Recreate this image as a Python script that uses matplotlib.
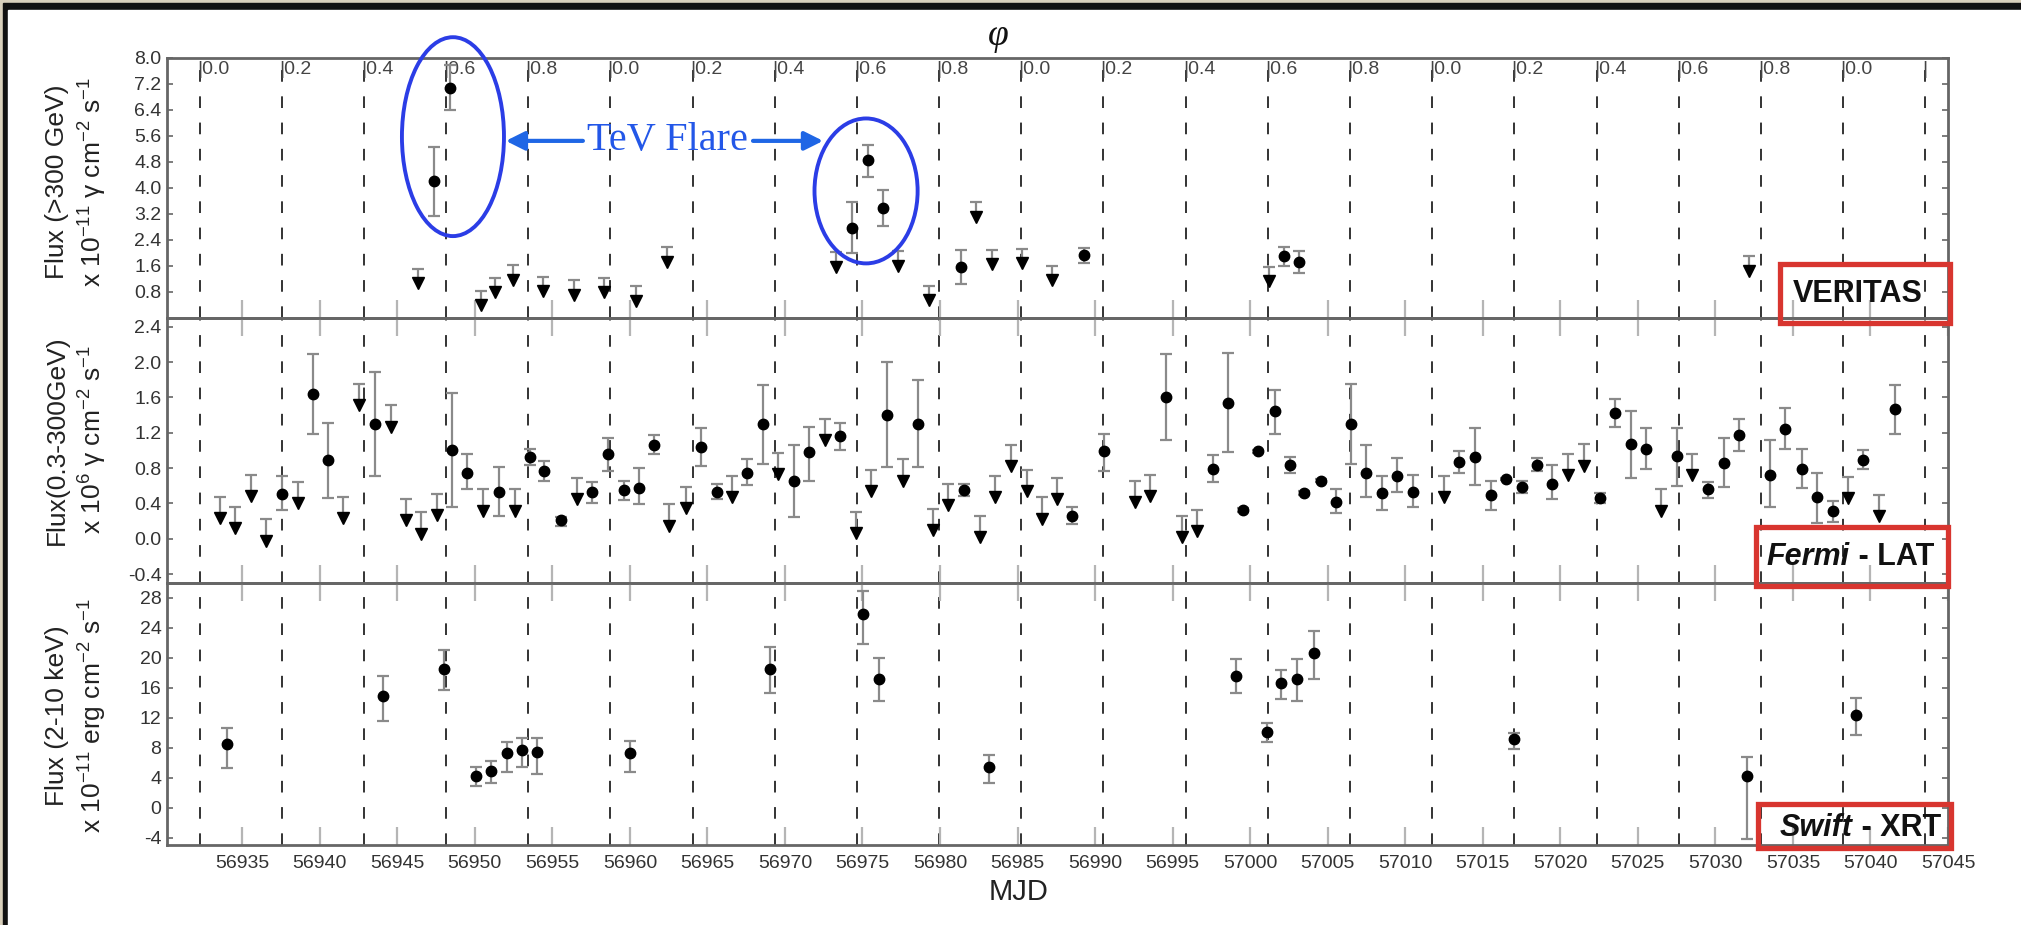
import numpy as np
import matplotlib
matplotlib.use('Agg')
import matplotlib.pyplot as plt
from matplotlib.patches import Ellipse, Rectangle

# ---- data (MJD, flux, error-bar ends) ----
# VERITAS >300 GeV, x 1e-11 ph cm^-2 s^-1
ver_mjd = [56947.36, 56948.37, 56974.31, 56975.35, 56976.30, 56981.34, 56989.27, 57002.15, 57003.18]
ver_flux = [4.22, 7.08, 2.76, 4.85, 3.38, 1.58, 1.93, 1.90, 1.71]
ver_lo = [3.15, 6.40, 2.01, 4.35, 2.82, 1.05, 1.68, 1.60, 1.37]
ver_hi = [5.26, 7.79, 3.56, 5.31, 3.93, 2.08, 2.16, 2.18, 2.06]
ver_ul_mjd = [56946.35, 56950.39, 56951.28, 56952.43, 56954.37, 56956.38, 56958.31, 56960.42, 56962.40,
              56973.27, 56977.28, 56979.32, 56982.35, 56983.36, 56985.29, 56987.25, 57001.20, 57032.14]
ver_ul = [1.52, 0.84, 1.24, 1.63, 1.27, 1.17, 1.24, 0.97, 2.17,
          2.03, 2.06, 1.00, 3.56, 2.10, 2.13, 1.61, 1.58, 1.90]

# Fermi-LAT 0.3-300 GeV
lat_mjd = [56937.56, 56939.58, 56940.53, 56943.56, 56948.54, 56949.52, 56951.57, 56953.56, 56954.48,
           56955.55, 56957.56, 56958.57, 56959.61, 56960.56, 56961.57, 56964.60, 56965.60, 56967.54,
           56968.57, 56970.56, 56971.54, 56973.56, 56976.58, 56978.60, 56981.54, 56988.52, 56990.56,
           56994.57, 56997.59, 56998.60, 56999.55, 57000.50, 57001.57, 57002.55, 57003.50, 57004.55,
           57005.55, 57006.50, 57007.47, 57008.48, 57009.49, 57010.51, 57013.48, 57014.49, 57015.54,
           57016.52, 57017.53, 57018.51, 57019.49, 57022.53, 57023.54, 57024.55, 57025.51, 57027.53,
           57029.52, 57030.57, 57031.55, 57033.54, 57034.52, 57035.57, 57036.58, 57037.59, 57039.52,
           57041.55]
lat_flux = [0.506, 1.634, 0.89, 1.30, 1.00, 0.75, 0.53, 0.93, 0.766,
            0.21, 0.53, 0.966, 0.55, 0.57, 1.06, 1.04, 0.53, 0.75,
            1.30, 0.653, 0.985, 1.16, 1.40, 1.30, 0.55, 0.257, 0.99,
            1.60, 0.79, 1.54, 0.325, 0.99, 1.445, 0.834, 0.52, 0.66,
            0.42, 1.30, 0.75, 0.52, 0.713, 0.53, 0.87, 0.93, 0.494,
            0.675, 0.59, 0.84, 0.626, 0.457, 1.42, 1.07, 1.02, 0.94,
            0.56, 0.86, 1.17, 0.728, 1.24, 0.79, 0.468, 0.313, 0.898,
            1.468]
lat_lo = [0.325, 1.19, 0.457, 0.71, 0.36, 0.56, 0.26, 0.834, 0.657,
          0.14, 0.41, 0.77, 0.445, 0.39, 0.96, 0.83, 0.45, 0.615,
          0.845, 0.25, 0.657, 1.01, 0.815, 0.815, 0.49, 0.166, 0.77,
          1.117, 0.64, 0.985, 0.30, 0.97, 1.19, 0.75, 0.50, 0.64,
          0.287, 0.845, 0.475, 0.325, 0.53, 0.355, 0.75, 0.615, 0.325,
          0.665, 0.52, 0.766, 0.45, 0.41, 1.27, 0.69, 0.796, 0.596,
          0.464, 0.59, 0.99, 0.355, 1.02, 0.57, 0.174, 0.19, 0.785,
          1.19]
lat_hi = [0.713, 2.09, 1.31, 1.89, 1.65, 0.966, 0.815, 1.015, 0.88,
          0.25, 0.64, 1.14, 0.66, 0.80, 1.17, 1.25, 0.62, 0.90,
          1.74, 1.06, 1.27, 1.31, 2.00, 1.80, 0.62, 0.355, 1.185,
          2.09, 0.947, 2.10, 0.35, 1.01, 1.69, 0.93, 0.54, 0.68,
          0.56, 1.75, 1.06, 0.713, 0.91, 0.728, 0.99, 1.25, 0.657,
          0.685, 0.66, 0.917, 0.834, 0.52, 1.58, 1.45, 1.25, 1.25,
          0.64, 1.136, 1.36, 1.117, 1.48, 1.015, 0.747, 0.43, 1.01,
          1.74]
lat_ul_mjd = [56933.56, 56934.54, 56935.55, 56936.56, 56938.57, 56941.51, 56942.52, 56944.57, 56945.55,
              56946.53, 56947.54, 56950.53, 56952.58, 56956.58, 56962.52, 56963.59, 56966.56, 56969.58,
              56972.58, 56974.57, 56975.55, 56977.59, 56979.55, 56980.53, 56982.55, 56983.56, 56984.57,
              56985.60, 56986.56, 56987.54, 56992.55, 56993.56, 56995.58, 56996.56, 57012.50, 57020.50,
              57021.52, 57026.49, 57028.51, 57038.57, 57040.57]
lat_ul = [0.475, 0.36, 0.72, 0.22, 0.64, 0.475, 1.75, 1.51, 0.45,
          0.30, 0.506, 0.56, 0.56, 0.69, 0.39, 0.59, 0.71, 0.974,
          1.355, 0.306, 0.777, 0.90, 0.336, 0.626, 0.257, 0.713, 1.06,
          0.777, 0.468, 0.69, 0.657, 0.728, 0.257, 0.325, 0.71, 0.966,
          1.07, 0.56, 0.958, 0.70, 0.50]

# Swift-XRT 2-10 keV, x 1e-11 erg cm^-2 s^-1
xrt_mjd = [56934.05, 56944.05, 56948.00, 56950.07, 56951.05, 56952.06, 56953.04, 56954.02, 56960.01,
           56969.03, 56975.05, 56976.09, 56983.16, 56999.06, 57001.08, 57002.00, 57003.01, 57004.10,
           57017.00, 57032.02, 57039.08]
xrt_flux = [8.52, 14.88, 18.45, 4.24, 4.94, 7.24, 7.68, 7.37, 7.24,
            18.5, 25.8, 17.17, 5.39, 17.6, 10.1, 16.6, 17.17, 20.7,
            9.1, 4.24, 12.4]
xrt_lo = [5.25, 11.5, 15.76, 2.91, 3.27, 4.81, 5.47, 4.5, 4.81,
          15.28, 21.9, 14.3, 3.27, 15.3, 8.7, 14.5, 14.2, 17.17,
          7.8, -4.15, 9.76]
xrt_hi = [10.68, 17.6, 21.0, 5.47, 6.22, 8.79, 9.23, 9.23, 8.92,
          21.46, 28.87, 19.96, 7.02, 19.8, 11.35, 18.4, 19.8, 23.6,
          10.0, 6.71, 14.66]

# orbital phase grid (LS I +61 303, P = 26.496 d), lines every 0.2 in phase
PERIOD = 26.496
PHASE0_MJD = 56932.25
n_phase_lines = 22

W, H = 2021, 925
plt.rcParams['font.family'] = ['Liberation Sans', 'DejaVu Sans']
plt.rcParams['mathtext.fontset'] = 'custom'
plt.rcParams['mathtext.rm'] = 'Liberation Sans'
plt.rcParams['mathtext.it'] = 'Liberation Sans:italic'
plt.rcParams['mathtext.bf'] = 'Liberation Sans:bold'

fig = plt.figure(figsize=(W / 100, H / 100), dpi=100)
fig.patch.set_facecolor('white')


def fx(px):
    return px / W


def fy(py):
    return 1 - py / H


# marble strip + black frame on top and left
fig.add_artist(Rectangle((0, 0), 1, 1, transform=fig.transFigure, color='#d9d0bc', zorder=-3))
fig.add_artist(Rectangle((fx(3), 0), 1, fy(3), transform=fig.transFigure, color='#111111', zorder=-2))
fig.add_artist(Rectangle((fx(8), 0), 1, fy(10), transform=fig.transFigure, color='white', zorder=-1))

LEFT, RIGHT = 167, 1948
edges = [58, 318, 583, 845]
ylims = [(0, 8.0), (-0.5, 2.5), (-5, 30)]
yticks = [np.arange(0.8, 8.01, 0.8), np.arange(-0.4, 2.41, 0.4), np.arange(-4, 29, 4)]
yfmt = ['%.1f', '%.1f', '%d']
SP = '#666666'
EC = '#8a8a8a'

phase_mjd = PHASE0_MJD + PERIOD / 5 * np.arange(n_phase_lines)
phase_val = (np.arange(n_phase_lines) % 5) * 0.2

axes = []
for i in range(3):
    top, bot = edges[i], edges[i + 1]
    ax = fig.add_axes([fx(LEFT), fy(bot), (RIGHT - LEFT) / W, (bot - top) / H])
    ax.set_facecolor('none')
    ax.set_xlim(56930.15, 57045)
    ax.set_ylim(*ylims[i])
    ax.set_yticks(yticks[i])
    ax.set_yticklabels([yfmt[i] % v for v in yticks[i]])
    ax.set_xticks(np.arange(56935, 57046, 5))
    for s in ax.spines.values():
        s.set_color(SP)
        s.set_linewidth(2.0)
    ax.tick_params(axis='y', direction='in', length=4, width=1.2, color=SP,
                   left=True, right=True, labelsize=14, labelcolor='#333333', pad=4)
    ax.tick_params(axis='x', direction='in', length=13, width=1.6, color='#b5b5b5',
                   bottom=True, top=(i > 0), labelsize=14, labelcolor='#333333', pad=7)
    if i < 2:
        ax.tick_params(axis='x', labelbottom=False)
    for xm in phase_mjd:
        ax.axvline(xm, color='#333333', lw=1.4, ls=(0, (6, 7.5)), zorder=1)
    axes.append(ax)

ax1, ax2, ax3 = axes

# phase labels along the top of the VERITAS panel
for xm, ph in zip(phase_mjd, phase_val):
    lab = '|%.1f' % ph if xm + 2 < 57045 else '|'
    ax1.annotate(lab, xy=(xm, 0.957), xycoords=ax1.get_xaxis_transform(),
                 xytext=(-2, 0), textcoords='offset points', ha='left', va='center',
                 fontsize=14, color='#444444', annotation_clip=False)


def detections(ax, mjd, flux, lo, hi):
    mjd, flux, lo, hi = map(np.asarray, (mjd, flux, lo, hi))
    ax.errorbar(mjd, flux, yerr=[flux - lo, hi - flux], fmt='o', color='black', ms=7.5,
                ecolor=EC, elinewidth=1.6, capsize=4.5, capthick=1.6, zorder=4)


def limits(ax, mjd, ul, length):
    mjd, ul = np.asarray(mjd), np.asarray(ul)
    ax.vlines(mjd, ul - length, ul, color=EC, lw=1.6, zorder=3)
    ax.plot(mjd, ul, ls='none', marker='_', ms=9, mew=1.6, color=EC, zorder=3)
    ax.plot(mjd, ul - length, ls='none', marker='v', ms=8, color='black', zorder=4)


detections(ax1, ver_mjd, ver_flux, ver_lo, ver_hi)
limits(ax1, ver_ul_mjd, ver_ul, 0.45)
detections(ax2, lat_mjd, lat_flux, lat_lo, lat_hi)
limits(ax2, lat_ul_mjd, lat_ul, 0.24)
detections(ax3, xrt_mjd, xrt_flux, xrt_lo, xrt_hi)

# y labels
ylab = ['Flux (>300 GeV)\nx 10$^{-11}$ \u03b3 cm$^{-2}$ s$^{-1}$',
        'Flux(0.3-300GeV)\nx 10$^{6}$ \u03b3 cm$^{-2}$ s$^{-1}$',
        'Flux (2-10 keV)\nx 10$^{-11}$ erg cm$^{-2}$ s$^{-1}$']
ylab_y = [182, 440, 716]
for lab, yy in zip(ylab, ylab_y):
    fig.text(fx(77), fy(yy), lab, rotation=90, ha='center', va='center',
             multialignment='center', fontsize=19, linespacing=1.35, color='#222222')

fig.text(fx(1019), fy(892), 'MJD', ha='center', va='center', fontsize=21, color='#222222')
fig.text(fx(998), fy(36), '\u03c6', ha='center', va='center', fontsize=27,
         family='Liberation Serif', style='italic', color='#111111')

# instrument tags in red boxes
RED = '#d8352f'
for (x0, y0, x1, y1) in [(1780, 264, 1950, 323), (1756, 527, 1948, 586), (1758, 804, 1951, 848)]:
    fig.add_artist(Rectangle((fx(x0), fy(y1)), (x1 - x0) / W, (y1 - y0) / H,
                             transform=fig.transFigure, fill=False, ec=RED, lw=3.8, zorder=10))
fig.text(fx(1858), fy(294), 'VERITAS', ha='center', va='center', fontsize=22,
         fontweight='bold', color='#111111', zorder=11)
fig.text(fx(1850), fy(557), 'Fermi', ha='right', va='center', fontsize=22,
         fontweight='bold', style='italic', color='#111111', zorder=11)
fig.text(fx(1850), fy(557), ' - LAT', ha='left', va='center', fontsize=22,
         fontweight='bold', color='#111111', zorder=11)
fig.text(fx(1853), fy(828), 'Swift', ha='right', va='center', fontsize=22,
         fontweight='bold', style='italic', color='#111111', zorder=11)
fig.text(fx(1853), fy(828), ' - XRT', ha='left', va='center', fontsize=22,
         fontweight='bold', color='#111111', zorder=11)

# TeV flare markup
BLUE = '#2b3de6'
ax1.add_patch(Ellipse((56948.59, 5.58), 6.58, 6.12, fill=False, ec=BLUE, lw=2.8,
                      clip_on=False, zorder=6))
ax1.add_patch(Ellipse((56975.23, 3.91), 6.65, 4.46, fill=False, ec=BLUE, lw=2.8,
                      clip_on=False, zorder=6))
ax1.text(56962.45, 5.17, 'TeV Flare', ha='center', va='baseline', fontsize=29,
         family='Liberation Serif', color='#2357e8', zorder=7)
arrow_kw = dict(arrowstyle='-|>', color='#1f66e5', lw=3, mutation_scale=28,
                shrinkA=0, shrinkB=0)
ax1.annotate('', xy=(56952.0, 5.45), xytext=(56956.97, 5.45), arrowprops=arrow_kw, zorder=7)
ax1.annotate('', xy=(56972.46, 5.45), xytext=(56967.94, 5.45), arrowprops=arrow_kw, zorder=7)

fig.savefig('out.png', dpi=100, facecolor=fig.get_facecolor())
